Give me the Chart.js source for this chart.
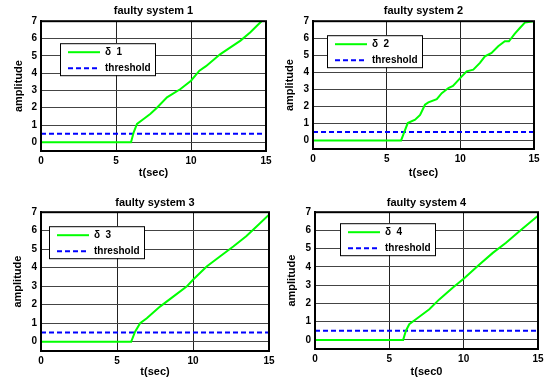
<!DOCTYPE html>
<html>
<head>
<meta charset="utf-8">
<script src="https://cdn.jsdelivr.net/npm/chart.js@4/dist/chart.umd.min.js"></script>
<style>
  html, body { margin: 0; padding: 0; background: #fff; }
  .panel { position: absolute; }
</style>
</head>
<body>
<div class="panel" style="left:0;top:0"><canvas id="c1" width="273" height="192"></canvas></div>
<div class="panel" style="left:273px;top:0"><canvas id="c2" width="274" height="192"></canvas></div>
<div class="panel" style="left:0;top:192px"><canvas id="c3" width="280" height="192"></canvas></div>
<div class="panel" style="left:273px;top:192px"><canvas id="c4" width="274" height="192"></canvas></div>
<script>
// tick labels
const xTicks = [0, 5, 10, 15];
const yTicks = [0, 1, 2, 3, 4, 5, 6, 7];

// text
const titles = ['faulty system 1', 'faulty system 2', 'faulty system 3', 'faulty system 4'];
const xLabels = ['t(sec)', 't(sec)', 't(sec)', 't(sec0'];
const yLabel = 'amplitude';
const seriesLabels = ['δ  1', 'δ  2', 'δ  3', 'δ  4'];
const thresholdLabel = 'threshold';

// residual signals (time, amplitude)
const t1 = [0, 6.0, 6.18, 6.4, 6.84, 7.3, 7.73, 8.4, 9.3, 10.0, 10.56, 11.0, 11.96, 13.3, 13.96, 14.7];
const d1 = [0, 0, 0.58, 1.06, 1.35, 1.65, 2.0, 2.6, 3.08, 3.56, 4.14, 4.4, 5.1, 5.88, 6.36, 7.0];

const t2 = [0, 5.98, 6.2, 6.43, 6.93, 7.27, 7.6, 7.83, 8.4, 8.74, 9.19, 9.5, 10.1, 10.43, 10.88, 11.33, 11.67, 12.12, 12.57, 13.02, 13.3, 13.7, 14.04, 14.38, 15];
const d2 = [0, 0, 0.5, 1.02, 1.22, 1.5, 2.1, 2.24, 2.43, 2.78, 3.08, 3.2, 3.76, 4.06, 4.16, 4.55, 4.94, 5.14, 5.53, 5.82, 5.82, 6.27, 6.6, 6.92, 7.0];

const t3 = [0, 5.93, 6.19, 6.52, 6.96, 7.83, 8.7, 9.58, 10.0, 10.9, 11.77, 12.65, 13.5, 14.2, 15];
const d3 = [0, 0, 0.54, 1.0, 1.27, 1.9, 2.44, 2.98, 3.35, 4.07, 4.61, 5.15, 5.7, 6.24, 6.87];

const t4 = [0, 5.93, 6.11, 6.34, 6.79, 7.69, 8.36, 9.26, 10.0, 11.06, 11.96, 12.85, 13.75, 15];
const d4 = [0, 0, 0.49, 0.86, 1.13, 1.68, 2.22, 2.86, 3.35, 4.13, 4.77, 5.32, 5.96, 6.81];

// threshold line
const thrT = [0, 15];
const thrY = [0.5, 0.5];

const times = [t1, t2, t3, t4];
const deltas = [d1, d2, d3, d4];

// per panel layout: y-axis width, right pad, x-axis height, title pads, legend offset
const layouts = [
    { yw: 41, pr: 7,  xh: 41, tTop: 4, tBot: 4, xtPad: 12, ytPad: 12, lx: 19, ly: 22 },
    { yw: 40, pr: 13, xh: 43, tTop: 4, tBot: 4, xtPad: 12, ytPad: 10, lx: 14, ly: 14 },
    { yw: 41, pr: 11, xh: 33, tTop: 4, tBot: 3, xtPad: 5,  ytPad: 11, lx: 8,  ly: 14 },
    { yw: 42, pr: 9,  xh: 35, tTop: 4, tBot: 3, xtPad: 5,  ytPad: 12, lx: 25, ly: 11 }
];

Chart.defaults.font.family = '"Liberation Sans", Arial, sans-serif';
Chart.defaults.font.weight = 'bold';
Chart.defaults.color = '#000';

const toPoints = (xs, ys) => xs.map((x, i) => ({ x: x, y: ys[i] }));

// box legend inside the plot area, plus a frame around it
const boxLegend = {
    id: 'boxLegend',
    afterDatasetsDraw(chart, args, opts) {
        const ctx = chart.ctx;
        const a = chart.chartArea;
        ctx.save();
        ctx.strokeStyle = '#000';
        ctx.lineWidth = 2;
        ctx.strokeRect(a.left, a.top, a.right - a.left, a.bottom - a.top);

        const bx = a.left + opts.dx, by = a.top + opts.dy;
        ctx.fillStyle = '#fff';
        ctx.fillRect(bx, by, 95, 32);
        ctx.lineWidth = 1;
        ctx.strokeRect(bx + 0.5, by + 0.5, 95, 32);
        ctx.font = 'bold 10px "Liberation Sans", Arial, sans-serif';
        ctx.textBaseline = 'middle';
        chart.data.datasets.forEach((ds, i) => {
            const ry = by + 9 + i * 16;
            ctx.strokeStyle = ds.borderColor;
            ctx.lineWidth = 2;
            ctx.setLineDash(ds.borderDash || []);
            ctx.beginPath();
            ctx.moveTo(bx + 8, ry);
            ctx.lineTo(bx + 40, ry);
            ctx.stroke();
            ctx.setLineDash([]);
            ctx.fillStyle = '#000';
            ctx.fillText(ds.label, bx + 45, ry);
        });
        ctx.restore();
    }
};

for (let i = 0; i < 4; i++) {
    const L = layouts[i];
    const ctx = document.getElementById(`c${i + 1}`).getContext('2d');
    new Chart(ctx, {
        type: 'line',
        data: {
            datasets: [{
                label: seriesLabels[i],
                data: toPoints(times[i], deltas[i]),
                borderColor: '#00ff00',
                borderWidth: 2,
                pointRadius: 0,
                tension: 0,
                fill: false
            }, {
                label: thresholdLabel,
                data: toPoints(thrT, thrY),
                borderColor: '#0000ff',
                borderWidth: 2,
                borderDash: [5, 3],
                pointRadius: 0,
                fill: false
            }]
        },
        options: {
            responsive: false,
            animation: false,
            layout: { padding: { left: 0, right: L.pr, top: 0, bottom: 0 } },
            scales: {
                x: {
                    type: 'linear',
                    min: 0,
                    max: 15,
                    afterBuildTicks: s => { s.ticks = xTicks.map(v => ({ value: v })); },
                    afterFit: s => { s.height = L.xh; s.paddingLeft = 0; s.paddingRight = 0; },
                    grid: { color: '#222', lineWidth: 1, drawTicks: false },
                    border: { color: '#000', width: 2 },
                    ticks: { padding: 4, font: { size: 10 }, maxRotation: 0 },
                    title: { display: true, text: xLabels[i], font: { size: 11 }, padding: { top: 0, bottom: L.xtPad } }
                },
                y: {
                    type: 'linear',
                    min: -0.5,
                    max: 7,
                    afterBuildTicks: s => { s.ticks = yTicks.map(v => ({ value: v })); },
                    afterFit: s => { s.width = L.yw; s.paddingTop = 0; s.paddingBottom = 0; },
                    grid: { color: '#444', lineWidth: 1, drawTicks: false },
                    border: { color: '#000', width: 2 },
                    ticks: { padding: 4, font: { size: 10 } },
                    title: { display: true, text: yLabel, font: { size: 11 }, padding: { top: L.ytPad, bottom: 0 } }
                }
            },
            plugins: {
                legend: { display: false },
                tooltip: { enabled: false },
                title: { display: true, fullSize: false, text: titles[i], font: { size: 11 }, padding: { top: L.tTop, bottom: L.tBot } },
                boxLegend: { dx: L.lx, dy: L.ly }
            }
        },
        plugins: [boxLegend]
    });
}
</script>
</body>
</html>
